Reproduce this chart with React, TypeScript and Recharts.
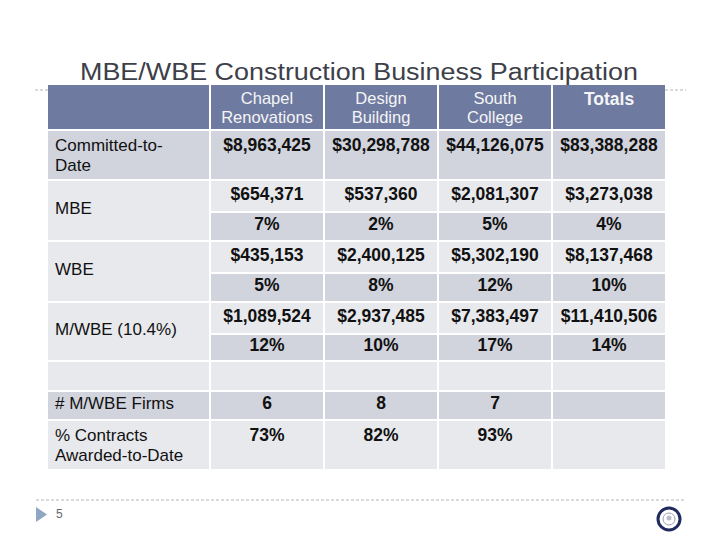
import React from 'react';
import { ScatterChart, Scatter, XAxis, YAxis, ReferenceLine, Customized } from 'recharts';

const title = 'MBE/WBE Construction Business Participation';
const projectHeads = [['Chapel', 'Renovations'], ['Design', 'Building'], ['South', 'College']];
const totalHead = 'Totals';

const committed = [8963425, 30298788, 44126075, 83388288];
const mbeAmount = [654371, 537360, 2081307, 3273038];
const mbePct = [7, 2, 5, 4];
const wbeAmount = [435153, 2400125, 5302190, 8137468];
const wbePct = [5, 8, 12, 10];
const mwbeAmount = [1089524, 2937485, 7383497, 11410506];
const mwbePct = [12, 10, 17, 14];
const firmCounts = [6, 8, 7];
const contractsPct = [73, 82, 93];

const labelCommitted = ['Committed-to-', 'Date'];
const labelMbe = 'MBE';
const labelWbe = 'WBE';
const labelMwbe = 'M/WBE (10.4%)';
const labelFirms = '# M/WBE Firms';
const labelContracts = ['% Contracts', 'Awarded-to-Date'];
const pageNumber = '5';

// layout
const W = 720;
const H = 540;
const FONT = '"Liberation Sans", Arial, sans-serif';
const GAP = 2;
const COL_LEFT = 48;
const COL_W = [161, 112, 112, 112, 112];
const ROW_TOP = 85;
const ROW_H = [44, 48, 30, 27, 30, 27, 30, 25, 28, 27, 48];

const HEAD_FILL = '#6f7aa0';
const DARK = '#d1d4dd';
const LIGHT = '#e8e9ed';

const colX: number[] = [];
COL_W.reduce((x, w) => { colX.push(x); return x + w + GAP; }, COL_LEFT);
const rowY: number[] = [];
ROW_H.reduce((y, h) => { rowY.push(y); return y + h + GAP; }, ROW_TOP);

const money = (v: number) => '$' + v.toLocaleString('en-US');
const pct = (v: number) => v + '%';

type Cell = {
  x: number; y: number; w: number; h: number;
  fill: string; lines: string[]; bold: boolean; color: string; size: number;
  align: 'left' | 'center'; valign: 'top' | 'middle' | 'head';
};

const cells: Cell[] = [];

function addCell(col: number, row: number, span: number, fill: string, lines: string[], opts: Partial<Cell> = {}) {
  const top = rowY[row];
  const bottom = rowY[row + span - 1] + ROW_H[row + span - 1];
  const w = COL_W[col];
  cells.push({
    x: colX[col] + w / 2,
    y: (top + bottom) / 2,
    w,
    h: bottom - top,
    fill,
    lines,
    bold: true,
    color: '#111',
    size: 17.5,
    align: 'center',
    valign: 'middle',
    ...opts,
  });
}

// header row
addCell(0, 0, 1, HEAD_FILL, []);
projectHeads.forEach((lines, i) =>
  addCell(i + 1, 0, 1, HEAD_FILL, lines, { bold: false, color: '#f5f5f7', size: 16.5, valign: 'head' }));
addCell(4, 0, 1, HEAD_FILL, [totalHead], { color: '#f5f5f7', size: 17.5, valign: 'top' });

// label column
const lab = { bold: false, align: 'left' as const, size: 17 };
addCell(0, 1, 1, DARK, labelCommitted, { ...lab, valign: 'top' });
addCell(0, 2, 2, LIGHT, [labelMbe], lab);
addCell(0, 4, 2, LIGHT, [labelWbe], lab);
addCell(0, 6, 2, LIGHT, [labelMwbe], lab);
addCell(0, 8, 1, LIGHT, []);
addCell(0, 9, 1, DARK, [labelFirms], lab);
addCell(0, 10, 1, LIGHT, labelContracts, { ...lab, valign: 'top' });

// value columns
for (let c = 0; c < 4; c++) {
  addCell(c + 1, 1, 1, DARK, [money(committed[c])], { valign: 'top' });
  addCell(c + 1, 2, 1, LIGHT, [money(mbeAmount[c])]);
  addCell(c + 1, 3, 1, DARK, [pct(mbePct[c])]);
  addCell(c + 1, 4, 1, LIGHT, [money(wbeAmount[c])]);
  addCell(c + 1, 5, 1, DARK, [pct(wbePct[c])]);
  addCell(c + 1, 6, 1, LIGHT, [money(mwbeAmount[c])]);
  addCell(c + 1, 7, 1, DARK, [pct(mwbePct[c])]);
  addCell(c + 1, 8, 1, LIGHT, []);
  addCell(c + 1, 9, 1, DARK, c < 3 ? [String(firmCounts[c])] : []);
  addCell(c + 1, 10, 1, LIGHT, c < 3 ? [pct(contractsPct[c])] : [], { valign: 'top' });
}

const CellShape = (props: any) => {
  const { cx, cy, payload } = props;
  const p = payload as Cell;
  const left = cx - p.w / 2;
  const top = cy - p.h / 2;
  const tx = p.align === 'left' ? left + 7 : cx;
  const lineGap = 20;
  let firstY: number;
  if (p.valign === 'top') firstY = top + 14;
  else if (p.valign === 'head') firstY = cy - 9.5 + 0.5;
  else firstY = cy - (p.lines.length - 1) * lineGap / 2 - 2.5;
  const gap = p.valign === 'head' ? 19 : lineGap;
  return (
    <g>
      <rect x={left} y={top} width={p.w} height={p.h} fill={p.fill} />
      {p.lines.map((t, i) => (
        <text
          key={i}
          x={tx}
          y={firstY + i * gap}
          textAnchor={p.align === 'left' ? 'start' : 'middle'}
          dominantBaseline="central"
          fontFamily={FONT}
          fontSize={p.size}
          fontWeight={p.bold ? 'bold' : 'normal'}
          fill={p.color}
        >
          {t}
        </text>
      ))}
    </g>
  );
};

const Decor = () => (
  <g>
    <text x={359} y={80} textAnchor="middle" fontFamily={FONT} fontSize={23} fill="#3d4049"
      textLength={558} lengthAdjust="spacingAndGlyphs">
      {title}
    </text>
    <polygon points="36,507 36,522 47,514.5" fill="#8fa6c5" />
    <text x={56} y={514} dominantBaseline="central" fontFamily={FONT} fontSize={12} fill="#666">
      {pageNumber}
    </text>
    <circle cx={669} cy={519} r={11} fill="#fff" stroke="#1f2a5e" strokeWidth={3} />
    <circle cx={669} cy={519} r={6} fill="none" stroke="#9aa0b8" strokeWidth={1} />
    <circle cx={669} cy={518} r={2.5} fill="#b8bccb" />
  </g>
);

export default function App() {
  return (
    <div style={{ position: 'absolute', left: 0, top: 0, width: W, height: H, background: '#fff' }}>
      <ScatterChart width={W} height={H} margin={{ top: 0, right: 0, bottom: 0, left: 0 }}>
        <XAxis type="number" dataKey="x" domain={[0, W]} hide />
        <YAxis type="number" dataKey="y" domain={[0, H]} reversed hide />
        <Customized component={<Decor />} />
        <ReferenceLine segment={[{ x: 35, y: 90 }, { x: 48, y: 90 }]} stroke="#b5b5b5" strokeDasharray="3 2" />
        <ReferenceLine segment={[{ x: 665, y: 90 }, { x: 686, y: 90 }]} stroke="#b5b5b5" strokeDasharray="3 2" />
        <ReferenceLine segment={[{ x: 36, y: 500 }, { x: 686, y: 500 }]} stroke="#b5b5b5" strokeDasharray="3 2" />
        <Scatter data={cells} shape={<CellShape />} isAnimationActive={false} />
      </ScatterChart>
    </div>
  );
}
